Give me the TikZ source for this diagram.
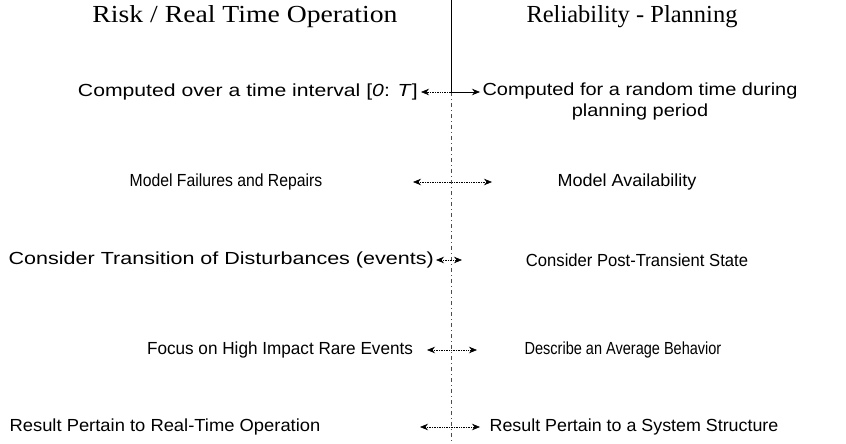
\documentclass[tikz,border=0pt]{standalone}
\usepackage{graphicx}
\usepackage{fontspec}
\setmainfont{Liberation Sans}
\newfontfamily\hdfont{Liberation Serif}
\usetikzlibrary{arrows.meta}
\newcommand{\sx}[2]{\scalebox{#1}[1]{#2}}
\begin{document}
\begin{tikzpicture}[x=1pt,y=-1pt,
  txt/.style={inner sep=0pt,font=\fontsize{17.5}{20.5}\selectfont},
  hd/.style={inner sep=0pt,font=\hdfont\fontsize{24.5}{28}\selectfont},
  dbl/.style={line width=0.7pt,densely dotted,{Stealth[length=8pt,width=6.5pt]}-{Stealth[length=8pt,width=6.5pt]}},
  sarr/.style={line width=0.8pt,-{Stealth[length=8pt,width=6.5pt]}},
  darr/.style={line width=0.7pt,densely dotted,-{Stealth[length=8pt,width=6.5pt]}},
  axis/.style={line width=0.8pt},
  axisd/.style={line width=0.5pt,dash pattern=on 4pt off 3pt on 1pt off 3pt,black!70}]
\useasboundingbox (0,0) rectangle (846,444);
% headers
\node[hd] (hl) at (245,17) {\sx{1.13}{Risk / Real Time Operation}};
\node[hd] (hr) at (632,17) {Reliability - Planning};
% vertical axis
\coordinate (top) at (451,0);
\coordinate (mid) at (451,92);
\coordinate (bot) at (451,444);
\draw[axis] (top) -- (mid);
\draw[axisd] (mid) -- (bot);
% row 1
\node[txt,anchor=east] (l1) at (418,92) {\sx{1.21}{Computed over a time interval [\textit{0}: \textit{T}]}};
\node[txt] (r1) at (640,102) {\sx{1.14}{\begin{tabular}{@{}c@{}}Computed for a random time during\\planning period\end{tabular}}};
\coordinate (c1) at (451,92);
\draw[darr] (c1) -- (421,92) coordinate (a1l);
\draw[sarr] (c1) -- (480,92) coordinate (a1r);
% row 2
\node[txt] (l2) at (226,182) {\sx{0.90}{Model Failures and Repairs}};
\node[txt] (r2) at (627,182) {\sx{1.03}{Model Availability}};
\coordinate (a2l) at (413,182);
\coordinate (a2r) at (492,182);
\draw[dbl] (a2l) -- (a2r);
% row 3
\node[txt,anchor=east] (l3) at (434,260) {\sx{1.23}{Consider Transition of Disturbances (events)}};
\node[txt] (r3) at (637,260) {\sx{0.95}{Consider Post-Transient State}};
\coordinate (a3l) at (436,260);
\coordinate (a3r) at (462,260);
\draw[dbl] (a3l) -- (a3r);
% row 4
\node[txt] (l4) at (280,350) {\sx{0.98}{Focus on High Impact Rare Events}};
\node[txt] (r4) at (623,350) {\sx{0.83}{Describe an Average Behavior}};
\coordinate (a4l) at (427,350);
\coordinate (a4r) at (477,350);
\draw[dbl] (a4l) -- (a4r);
% row 5
\node[txt] (l5) at (165,427) {\sx{1.05}{Result Pertain to Real-Time Operation}};
\node[txt] (r5) at (634,427) {\sx{1.02}{Result Pertain to a System Structure}};
\coordinate (a5l) at (420,427);
\coordinate (a5r) at (480,427);
\draw[dbl] (a5l) -- (a5r);
\end{tikzpicture}
\end{document}
